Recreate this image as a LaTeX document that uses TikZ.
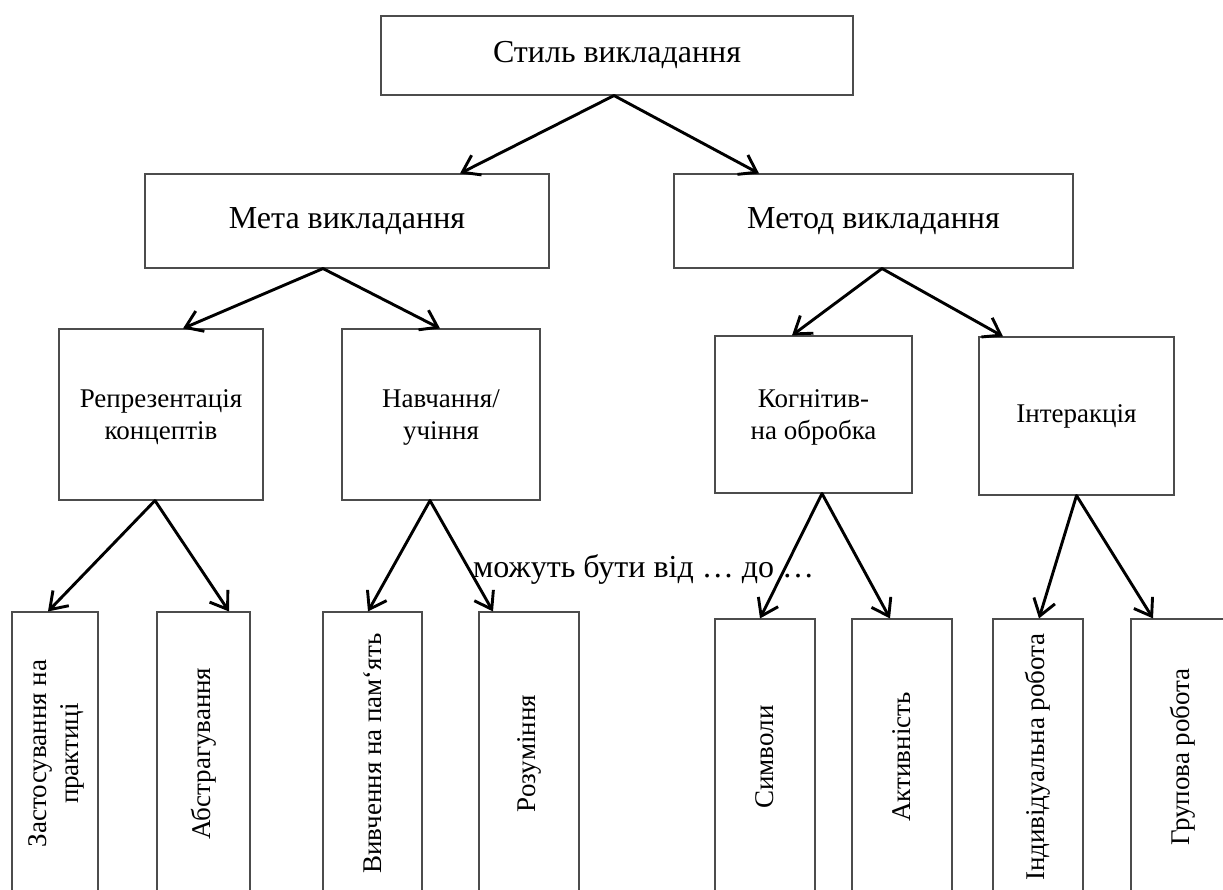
\documentclass[tikz,border=0pt]{standalone}
\usepackage{fontspec}
\setmainfont{Liberation Serif}
\usetikzlibrary{arrows.meta,calc}

\tikzset{
  box/.style={draw=black!70, line width=1.1pt, rectangle, inner sep=0pt},
  big/.style={font=\fontsize{32}{38}\selectfont},
  mid/.style={font=\fontsize{27}{32}\selectfont, align=center},
  vert/.style={font=\fontsize{27}{32}\selectfont, align=center, rotate=90},
  arr/.style={draw=black, line width=2.9pt, line cap=round,
    -{Straight Barb[length=16pt,width=22pt,line width=2.9pt]}},
}

\begin{document}
\begin{tikzpicture}[x=1pt,y=-1pt]
\useasboundingbox (0,0) rectangle (1223,890);
\clip (0,0) rectangle (1223,890);

% top level
\node[box, big, minimum width=472, minimum height=79] (top) at (617,55.5) {Стиль викладання};

% second level
\node[box, big, minimum width=404, minimum height=94] (meta) at (347,221) {Мета викладання};
\node[box, big, minimum width=399, minimum height=94] (metod) at (873.5,221) {Метод викладання};

% third level
\node[box, mid, minimum width=204, minimum height=171] (repr) at (161,414.5) {};
\node[box, mid, minimum width=198, minimum height=171] (nav) at (441,414.5) {};
\node[box, mid, minimum width=197, minimum height=157] (kog) at (813.5,414.5) {};
\node[box, mid, minimum width=195, minimum height=158] (inter) at (1076.5,416) {Інтеракція};

\node[mid] (reprT) at ($(repr.center)+(0,3)$) {Репрезентація\\концептів};
\node[mid] (navT)  at ($(nav.center)+(0,3)$)  {Навчання/\\учіння};
\node[mid] (kogT)  at ($(kog.center)+(0,3)$)  {Когнітив-\\на обробка};

% fourth level: tall boxes running past the lower edge
\node[box, minimum width=86,  minimum height=283] (zast) at (55,753.5) {};
\node[box, minimum width=93,  minimum height=283] (abs)  at (203.5,753.5) {};
\node[box, minimum width=99,  minimum height=283] (vyv)  at (372.5,753.5) {};
\node[box, minimum width=100, minimum height=283] (roz)  at (529,753.5) {};
\node[box, minimum width=100, minimum height=276] (sym)  at (765,757) {};
\node[box, minimum width=100, minimum height=276] (akt)  at (902,757) {};
\node[box, minimum width=90,  minimum height=276] (ind)  at (1038,757) {};
\node[box, minimum width=104, minimum height=276] (grup) at (1183,757) {};

\node[vert] (zastT) at ($(zast.center)+(1,0)$) {Застосування на\\практиці};
\node[vert] (absT)  at (abs.center)  {Абстрагування};
\node[vert] (vyvT)  at (vyv.center)  {Вивчення на пам‘ять};
\node[vert] (rozT)  at (roz.center)  {Розуміння};
\node[vert] (symT)  at (sym.center)  {Символи};
\node[vert] (aktT)  at (akt.center)  {Активність};
\node[vert] (indT)  at (ind.center)  {Індивідуальна робота};
\node[vert] (grupT) at (grup.center) {Групова робота};

% range remark
\node[big, anchor=base west, inner sep=0pt] (range) at (473,577) {можуть бути від … до …};

% connectors
\draw[arr] ($(top.south)+(-3,0)$) -- ($(meta.north)+(113,0)$);
\draw[arr] ($(top.south)+(-3,0)$) -- ($(metod.north)+(-114.5,0)$);

\draw[arr] ($(meta.south)+(-24,0)$) -- ($(repr.north)+(22,0)$);
\draw[arr] ($(meta.south)+(-24,0)$) -- ($(nav.north)+(-1,0)$);

\draw[arr] ($(metod.south)+(8.5,0)$) -- ($(kog.north)+(-21.5,0)$);
\draw[arr] ($(metod.south)+(8.5,0)$) -- ($(inter.north)+(-73.5,0)$);

\draw[arr] ($(repr.south)+(-6,0)$) -- ($(zast.north)+(-7,0)$);
\draw[arr] ($(repr.south)+(-6,0)$) -- ($(abs.north)+(25.5,0)$);

\draw[arr] ($(nav.south)+(-11,0)$) -- ($(vyv.north)+(-4.5,0)$);
\draw[arr] ($(nav.south)+(-11,0)$) -- ($(roz.north)+(-36,0)$);

\draw[arr] ($(kog.south)+(8.5,0)$) -- ($(sym.north)+(-5,0)$);
\draw[arr] ($(kog.south)+(8.5,0)$) -- ($(akt.north)+(-12,0)$);

\draw[arr] (inter.south) -- ($(ind.north)+(1,0)$);
\draw[arr] (inter.south) -- ($(grup.north)+(-30,0)$);
\end{tikzpicture}
\end{document}
